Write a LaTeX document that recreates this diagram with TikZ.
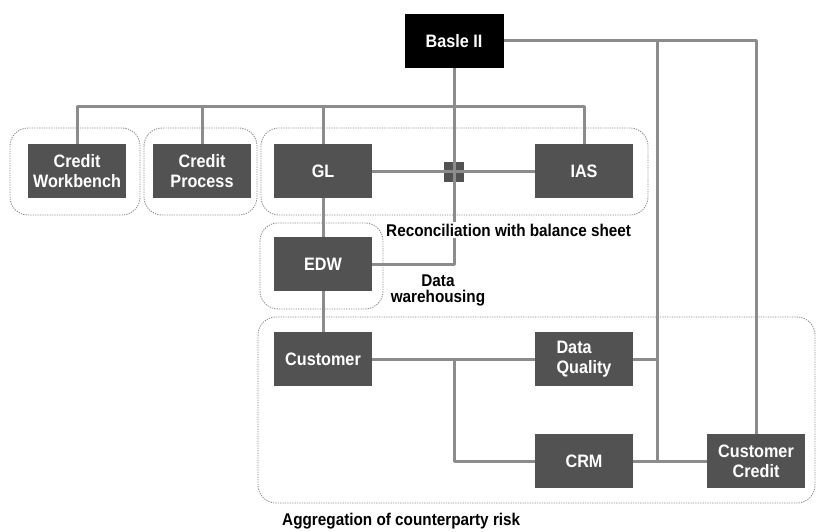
\documentclass[tikz,border=0pt]{standalone}
\usepackage{fontspec}
\setmainfont[FakeStretch=0.9]{Liberation Sans}
\begin{document}
\begin{tikzpicture}[x=1pt,y=-1pt,line join=round,
	box/.style={fill=black!68,text=white,minimum width=98pt,minimum height=54pt,inner sep=0pt,align=center,font=\bfseries\fontsize{18}{20}\selectfont},
	link/.style={draw=black!45,line width=3pt},
	grp/.style={draw=black!45,dash pattern=on 1.2pt off 1.2pt,line width=.9pt,rounded corners=18pt},
	lbl/.style={font=\bfseries\fontsize{17}{16}\selectfont,inner sep=2pt}]
	\useasboundingbox (0,0) rectangle (816,532);
	
	\draw[grp] (10,128) rectangle (140,215);
	\draw[grp] (144,128) rectangle (257,215);
	\draw[grp] (261,128) rectangle (648,215);
	\draw[grp] (260,223) rectangle (383,309);
	\draw[grp] (258,317) rectangle (815,503);
	
	\node[box,fill=black,minimum width=99pt] (basle) at (454,41) {Basle II};
	\node[box] (cw) at (77,171) {Credit\\Workbench};
	\node[box] (cp) at (202,171) {Credit\\Process};
	\node[box] (gl) at (323,171) {GL};
	\node[box] (ias) at (584,171) {IAS};
	\node[box] (edw) at (323,264) {EDW};
	\node[box] (cust) at (323,359) {Customer};
	\node[box,align=left] (dq) at (584,359) {Data\\Quality};
	\node[box] (crm) at (584,461) {CRM};
	\node[box] (cc) at (756,461) {Customer\\Credit};
	\node[fill=black!68,minimum size=20pt,inner sep=0pt] (junc) at (454,172) {};
	
	\coordinate (bus) at (0,107);
	\coordinate (tap) at (657,41);
	\coordinate (split) at (454,360);
	
	\draw[link] (cw.north)--(cw.north|-bus)-|(ias.north);
	\draw[link] (cp.north)--(cp.north|-bus) (gl.north)--(gl.north|-bus);
	\draw[link] (gl.east)--(ias.west);
	\draw[link] (basle.south)--(basle.south|-edw.east)--(edw.east);
	\draw[link] (gl.south)--(edw.north) (edw.south)--(cust.north);
	\draw[link] (cust.east)--(dq.west);
	\draw[link] (split)|-(crm.west);
	\draw[link] (basle.east)-|(cc.north);
	\draw[link] (tap)--(tap|-crm.east);
	\draw[link] (dq.east)--(dq.east-|tap);
	\draw[link] (crm.east)--(cc.west);
	
	\node[lbl,fill=white,anchor=west] (rec) at (384,230) {Reconciliation with balance sheet};
	\node[lbl,align=center] (dwh) at (438,290) {Data\\warehousing};
	\node[lbl,anchor=west] (agg) at (280,521) {Aggregation of counterparty risk};
\end{tikzpicture}
\end{document}
